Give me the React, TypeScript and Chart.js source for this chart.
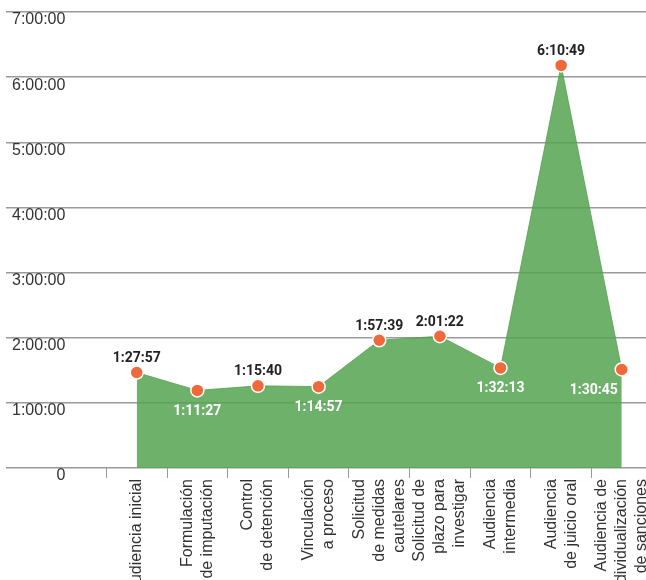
import React, { useEffect, useRef } from 'react';
import { Chart, registerables } from 'chart.js';

Chart.register(...registerables);

// ---- data ----
const CATEGORIES: string[][] = [
  ['Audiencia inicial'],
  ['Formulación', 'de imputación'],
  ['Control', 'de detención'],
  ['Vinculación', 'a proceso'],
  ['Solicitud', 'de medidas', 'cautelares'],
  ['Solicitud de', 'plazo para', 'investigar'],
  ['Audiencia', 'intermedia'],
  ['Audiencia', 'de juicio oral'],
  ['Audiencia de', 'individualización', 'de sanciones'],
];

const DURATION_LABELS: string[] = [
  '1:27:57',
  '1:11:27',
  '1:15:40',
  '1:14:57',
  '1:57:39',
  '2:01:22',
  '1:32:13',
  '6:10:49',
  '1:30:45',
];

const Y_TICK_LABELS: string[] = ['0', '1:00:00', '2:00:00', '3:00:00', '4:00:00', '5:00:00', '6:00:00', '7:00:00'];
const Y_TICK_SECONDS: number[] = [0, 3600, 7200, 10800, 14400, 18000, 21600, 25200];

// label placement for each value label (style config)
const LABEL_PLACEMENT: string[] = ['above', 'below', 'above', 'below', 'above', 'above', 'below', 'above', 'below-left'];

const toSeconds = (s: string) => {
  const [h, m, sec] = s.split(':').map(Number);
  return h * 3600 + m * 60 + sec;
};

const VALUES = DURATION_LABELS.map(toSeconds);

// ---- layout / style ----
const X_MIN = -2.156;
const X_MAX = 8.4;
const LINE_UNITS = 0.33; // spacing of label lines in category units
const TICK_FONT = { family: 'Liberation Sans', size: 16, lineHeight: 1.25 };
const GRID_COLOR = '#9a9a9a';
const TEXT_COLOR = '#333333';
const FILL_COLOR = 'rgba(85,163,80,0.85)';
const POINT_COLOR = '#f0693a';

const valueLabels = {
  id: 'valueLabels',
  afterDatasetsDraw(chart: any) {
    const meta = chart.getDatasetMeta(0);
    const ctx = chart.ctx;
    ctx.save();
    ctx.font = 'bold 14px Roboto';
    ctx.textBaseline = 'middle';
    meta.data.forEach((pt: any, i: number) => {
      const place = LABEL_PLACEMENT[i];
      const above = place === 'above';
      ctx.fillStyle = above ? '#222222' : '#ffffff';
      ctx.textAlign = place === 'below-left' ? 'right' : 'center';
      const x = place === 'below-left' ? pt.x - 4 : pt.x;
      const y = above ? pt.y - 14 : pt.y + 21;
      ctx.fillText(DURATION_LABELS[i], x, y);
    });
    ctx.restore();
  },
};

export default function App() {
  const canvasRef = useRef<HTMLCanvasElement | null>(null);

  useEffect(() => {
    if (!canvasRef.current) return;
    const chart = new Chart(canvasRef.current, {
      type: 'line',
      data: {
        datasets: [
          {
            data: VALUES.map((v, i) => ({ x: i, y: v })),
            xAxisID: 'x',
            yAxisID: 'y',
            fill: 'origin',
            backgroundColor: FILL_COLOR,
            borderColor: FILL_COLOR,
            borderWidth: 1,
            tension: 0,
            pointRadius: 6.5,
            pointBackgroundColor: POINT_COLOR,
            pointBorderColor: '#ffffff',
            pointBorderWidth: 1.5,
          },
        ],
      },
      options: {
        animation: false,
        responsive: false,
        devicePixelRatio: 1,
        layout: { autoPadding: false, padding: { top: 12, left: 0, right: 0, bottom: 0 } },
        plugins: {
          legend: { display: false },
          tooltip: { enabled: false },
        },
        scales: {
          x: {
            type: 'linear',
            position: 'bottom',
            weight: 0,
            min: X_MIN,
            max: X_MAX,
            bounds: 'data',
            afterBuildTicks: (s: any) => {
              s.ticks = CATEGORIES.map((_, i) => ({ value: i - 0.5 })).filter(
                (t) => t.value >= X_MIN && t.value <= X_MAX
              );
            },
            ticks: { display: false },
            grid: { drawOnChartArea: false, drawTicks: true, tickLength: 10, color: GRID_COLOR, lineWidth: 1 },
            border: { display: false },
            afterFit: (s: any) => {
              s.height = 10;
              s.paddingLeft = 0;
              s.paddingRight = 0;
            },
          },
          x2: {
            type: 'linear',
            position: 'bottom',
            weight: 1,
            min: X_MIN,
            max: X_MAX,
            bounds: 'data',
            afterBuildTicks: (s: any) => {
              s.ticks = CATEGORIES.map((lines, i) => ({ value: i - ((lines.length - 1) / 2) * LINE_UNITS }));
            },
            ticks: {
              autoSkip: false,
              minRotation: 90,
              maxRotation: 90,
              padding: 1,
              color: TEXT_COLOR,
              font: TICK_FONT,
              callback: (_v: any, idx: number) => CATEGORIES[idx],
            },
            grid: { display: false, drawTicks: false },
            border: { display: false },
            afterFit: (s: any) => {
              s.height = 102;
              s.paddingLeft = 0;
              s.paddingRight = 0;
            },
          },
          y: {
            type: 'linear',
            position: 'left',
            min: 0,
            max: 25200,
            afterBuildTicks: (s: any) => {
              s.ticks = Y_TICK_SECONDS.map((v) => ({ value: v }));
            },
            ticks: {
              mirror: true,
              crossAlign: 'far',
              padding: 6,
              labelOffset: 8,
              color: TEXT_COLOR,
              font: TICK_FONT,
              callback: (_v: any, idx: number) => Y_TICK_LABELS[idx],
            },
            grid: { color: GRID_COLOR, lineWidth: 1.5, drawTicks: false },
            border: { display: false },
            afterFit: (s: any) => {
              s.width = 6;
              s.paddingTop = 0;
              s.paddingBottom = 0;
            },
          },
        },
      },
      plugins: [valueLabels],
    } as any);
    return () => chart.destroy();
  }, []);

  return (
    <div style={{ position: 'absolute', left: 0, top: 0, width: 646, height: 580, background: '#ffffff' }}>
      <canvas ref={canvasRef} width={646} height={580} />
    </div>
  );
}
